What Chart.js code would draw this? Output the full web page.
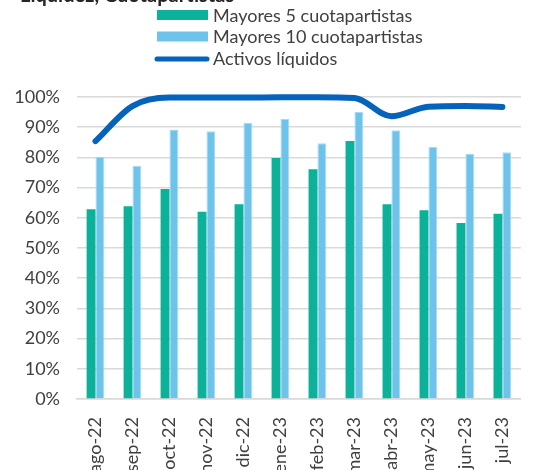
<!DOCTYPE html>
<html>
<head>
<meta charset="utf-8">
<script src="https://cdn.jsdelivr.net/npm/chart.js@4.4.0/dist/chart.umd.min.js"></script>
<style>
  html, body { margin: 0; padding: 0; background: #fff; }
  #wrap { width: 534px; height: 470px; }
</style>
</head>
<body>
<div id="wrap"><canvas id="chart" width="534" height="470"></canvas></div>
<script>
// ── Data ─────────────────────────────────────
const months = ['ago-22', 'sep-22', 'oct-22', 'nov-22', 'dic-22', 'ene-23',
  'feb-23', 'mar-23', 'abr-23', 'may-23', 'jun-23', 'jul-23'];
const top5 = [62.8, 63.8, 69.5, 62.0, 64.5, 79.8, 76.1, 85.4, 64.5, 62.5, 58.3, 61.3];
const top10 = [80.2, 77.2, 89.2, 88.7, 91.5, 92.7, 84.7, 95.0, 89.0, 83.5, 81.2, 81.7];
const liquidAssets = [85.4, 97.0, 99.8, 99.8, 99.8, 99.9, 99.9, 99.7, 93.6, 96.8, 97.0, 96.7];
const yTicks = [0, 10, 20, 30, 40, 50, 60, 70, 80, 90, 100];
const titleText = 'Liquidez, Cuotapartistas';

const FONT = 'Lato, "Noto Sans", sans-serif';
const TEXT = '#404040';

// ── Custom stacked legend + cut-off title ─────
const stackedLegend = {
  id: 'stackedLegend',
  afterDraw(chart) {
    const ctx = chart.ctx;
    ctx.save();
    ctx.fillStyle = '#262626';
    ctx.font = 'bold 20px ' + FONT;
    ctx.textBaseline = 'alphabetic';
    ctx.fillText(titleText, 20, 2);

    ctx.font = '18px ' + FONT;
    ctx.textBaseline = 'middle';
    chart.data.datasets.forEach((ds, i) => {
      const y = 15 + i * 21.5;
      if (ds.type === 'line') {
        ctx.strokeStyle = ds.borderColor;
        ctx.lineWidth = 5;
        ctx.lineCap = 'round';
        ctx.beginPath();
        ctx.moveTo(157, y + 1);
        ctx.lineTo(207, y + 1);
        ctx.stroke();
      } else {
        ctx.fillStyle = ds.backgroundColor;
        ctx.fillRect(157, y - 5, 51, 10);
      }
      ctx.fillStyle = TEXT;
      ctx.fillText(ds.label, 213, y + 1);
    });
    ctx.restore();
  }
};

new Chart(document.getElementById('chart'), {
  data: {
    labels: months,
    datasets: [
      {
        type: 'bar',
        label: 'Mayores 5 cuotapartistas',
        data: top5,
        backgroundColor: '#0bb198',
        categoryPercentage: 0.48,
        barPercentage: 1,
        order: 2
      },
      {
        type: 'bar',
        label: 'Mayores 10 cuotapartistas',
        data: top10,
        backgroundColor: '#6ec3ea',
        borderColor: '#a8dcf3',
        borderWidth: { top: 1, left: 1, right: 1, bottom: 0 },
        categoryPercentage: 0.48,
        barPercentage: 1,
        order: 2
      },
      {
        type: 'line',
        label: 'Activos líquidos',
        data: liquidAssets,
        borderColor: '#0563bb',
        borderWidth: 6,
        borderCapStyle: 'round',
        pointRadius: 0,
        cubicInterpolationMode: 'monotone',
        clip: false,
        order: 0
      }
    ]
  },
  options: {
    responsive: false,
    animation: false,
    layout: { padding: { top: 97, left: 0, right: 0, bottom: 0 } },
    plugins: {
      legend: { display: false },
      tooltip: { enabled: false }
    },
    scales: {
      x: {
        grid: { display: false },
        border: { color: '#d9d9d9', width: 1.5 },
        afterFit: axis => { axis.height = 71; },
        ticks: {
          color: TEXT,
          font: { family: FONT, size: 18 },
          minRotation: 90,
          maxRotation: 90,
          padding: 10
        }
      },
      y: {
        min: 0,
        max: 100,
        afterFit: axis => { axis.width = 77; },
        afterBuildTicks: axis => { axis.ticks = yTicks.map(v => ({ value: v })); },
        grid: { color: '#d9d9d9', lineWidth: 1.5, drawTicks: false },
        border: { display: false },
        ticks: {
          color: TEXT,
          font: { family: FONT, size: 18 },
          padding: 17,
          callback: v => v + '%'
        }
      }
    }
  },
  plugins: [stackedLegend]
});
</script>
</body>
</html>
